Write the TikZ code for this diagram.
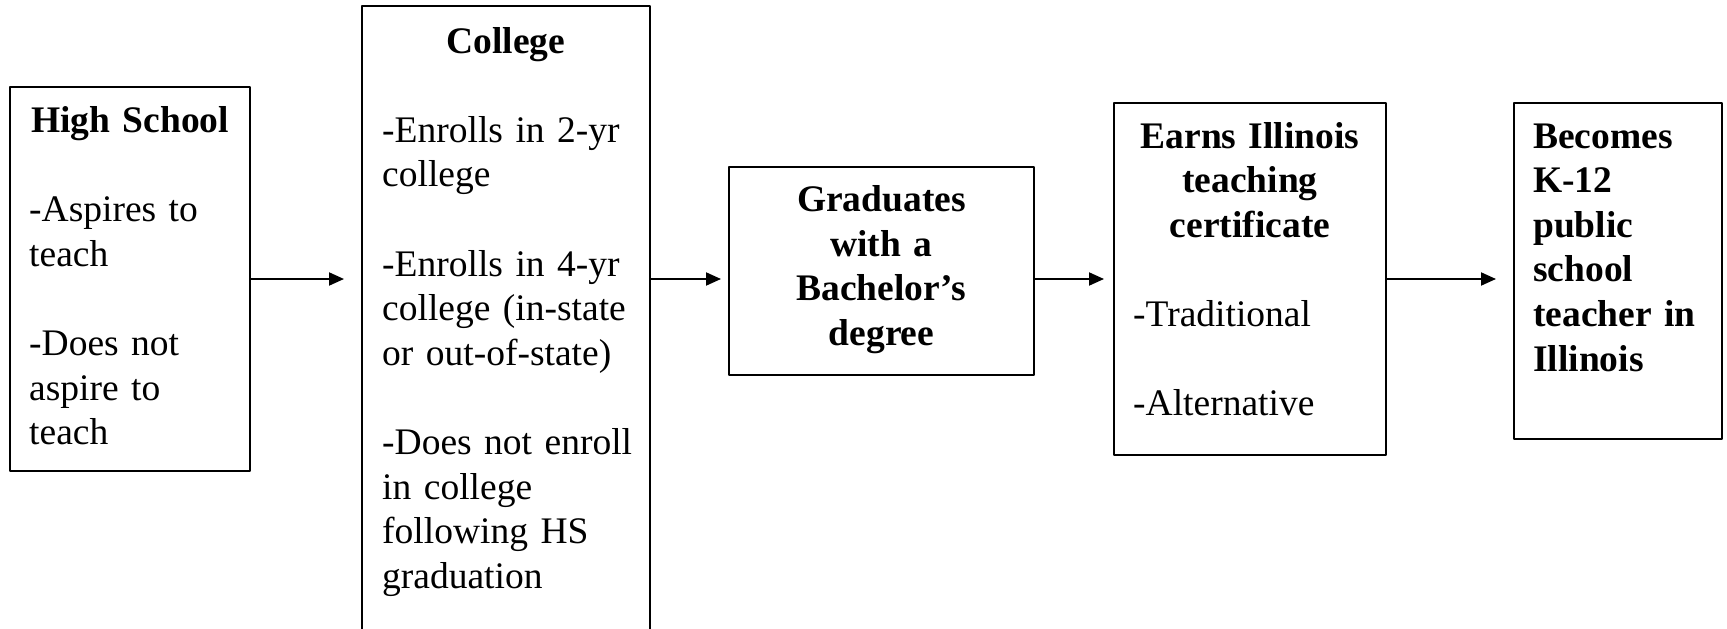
\documentclass[tikz,border=0pt]{standalone}
\usepackage{fontspec}
\setmainfont{Liberation Serif}
\usetikzlibrary{arrows.meta}
\tikzset{
	box/.style={draw, line width=2pt, inner sep=0pt},
	body/.style={inner sep=0pt, text width=#1, align=left, anchor=base west, font=\fontsize{37.5}{44.6}\selectfont},
	body/.default=250pt,
	bbody/.style={body=#1, font=\fontsize{37.5}{44.6}\selectfont\bfseries},
	ttl/.style={inner sep=0pt, text width=#1, align=center, anchor=base, font=\fontsize{37.5}{44.6}\selectfont\bfseries},
	arr/.style={-{Triangle[length=15pt,width=13pt]}, line width=2pt}
}
\begin{document}
\begin{tikzpicture}[x=1pt, y=-1pt, line join=round]
	\useasboundingbox (0,0) rectangle (1727,629);
	\node[box, minimum width=240pt, minimum height=384pt] (hs) at (130,279) {};
	\node[box, minimum width=288pt, minimum height=640pt] (col) at (506,326) {};
	\node[box, minimum width=305pt, minimum height=208pt] (grad) at (881.5,271) {};
	\node[box, minimum width=272pt, minimum height=352pt] (cert) at (1250,279) {};
	\node[box, minimum width=208pt, minimum height=336pt] (tch) at (1618,271) {};
	\node[ttl=230pt] (hs-t) at (130,132.7) {High School};
	\node[body=215pt] (hs-b) at (29,221.9) {-Aspires to\\teach\\[44.6pt]-Does not\\aspire to\\teach};
	\node[ttl=270pt] (col-t) at (506,53) {College};
	\node[body=262pt] (col-b) at (382,142.2) {-Enrolls in 2-yr\\college\\[44.6pt]-Enrolls in 4-yr\\college (in-state\\or out-of-state)\\[44.6pt]-Does not enroll\\in college\\following HS\\graduation};
	\node[ttl=290pt] (grad-t) at (881.5,211.7) {Graduates\\with a\\Bachelor’s\\degree};
	\node[ttl=260pt] (cert-t) at (1250,148) {Earns Illinois\\teaching\\certificate};
	\node[body=240pt] (cert-b) at (1133,326.4) {-Traditional\\[44.6pt]-Alternative};
	\node[bbody=185pt] (tch-t) at (1533,148) {Becomes\\K-12\\public\\school\\teacher in\\Illinois};
	\coordinate (lvl) at (0,279);
	\foreach \a/\b/\s in {hs/col/17,col/grad/7,grad/cert/9,cert/tch/17}
	\draw[arr, shorten >=\s pt] (\a.east |- lvl) -- (\b.west |- lvl);
\end{tikzpicture}
\end{document}
